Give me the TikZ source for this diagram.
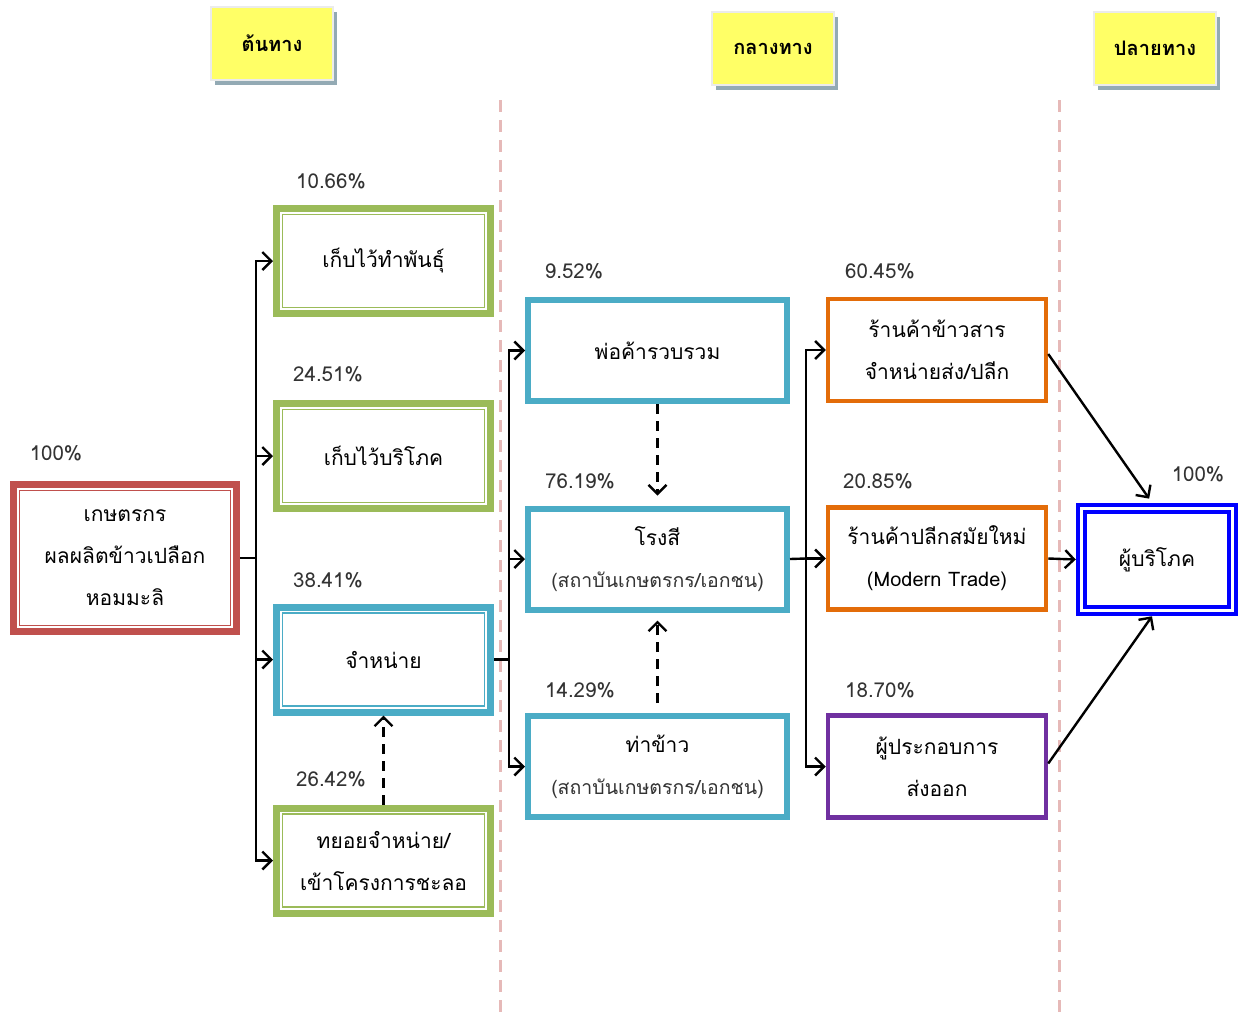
\documentclass[tikz,border=0pt]{standalone}
\usepackage{fontspec}
\setmainfont[Script=Thai]{Loma}
\usetikzlibrary{arrows.meta,shadows,calc}
\definecolor{cgreen}{HTML}{9BBB59}
\definecolor{cred}{HTML}{C0504D}
\definecolor{cteal}{HTML}{4BACC6}
\definecolor{corange}{HTML}{E36C09}
\definecolor{cpurple}{HTML}{7030A0}
\definecolor{cblue}{HTML}{0000FF}
\definecolor{cpink}{HTML}{E6B9B8}
\definecolor{cyellow}{HTML}{FFFF66}
\definecolor{cshadow}{HTML}{93AAB4}
\definecolor{clabel}{HTML}{333333}
\newcommand{\subtxt}[1]{{\fontsize{19.5}{42}\selectfont\color{black!80}#1}}
\tikzset{
  boxbase/.style={rectangle, inner sep=0pt, align=center, fill=white,
    font=\fontsize{21}{42}\selectfont},
  innerline/.style 2 args={path picture={\draw[#1,line width=#2]
    ([shift={(6pt,-6pt)}]path picture bounding box.north west) rectangle
    ([shift={(-6pt,6pt)}]path picture bounding box.south east);}},
  greenbox/.style={boxbase, draw=cgreen, line width=7pt, minimum width=214pt,
    minimum height=105pt, innerline={cgreen}{1.8pt}},
  tealdouble/.style={boxbase, draw=cteal, line width=7pt, minimum width=214pt,
    minimum height=105pt, innerline={cteal}{1.8pt}},
  redbox/.style={boxbase, draw=cred, line width=7pt, minimum width=223pt,
    minimum height=147pt, innerline={cred}{1.8pt}},
  tealbox/.style={boxbase, draw=cteal, line width=6pt, minimum width=259pt,
    minimum height=101pt},
  orangebox/.style={boxbase, draw=corange, line width=4.5pt, minimum width=218pt,
    minimum height=102pt},
  purplebox/.style={boxbase, draw=cpurple, line width=4.5pt, minimum width=218pt,
    minimum height=102pt},
  consbox/.style={boxbase, draw=cblue, line width=4.5pt, minimum width=158pt,
    minimum height=109pt,
    path picture={\draw[cblue,line width=4pt]
    ([shift={(7pt,-7pt)}]path picture bounding box.north west) rectangle
    ([shift={(-7pt,7pt)}]path picture bounding box.south east);}},
  header/.style={rectangle, fill=cyellow, draw=black!8, line width=2pt,
    minimum width=122pt, minimum height=73pt, inner sep=0pt,
    font=\fontsize{20}{24}\selectfont\bfseries,
    drop shadow={shadow xshift=4pt, shadow yshift=-5pt, fill=cshadow, opacity=1}},
  pct/.style={font=\fontsize{20.5}{24}\selectfont, text=clabel, inner sep=0pt},
  conn/.style={draw=black, line width=2.4pt, -{Straight Barb[length=9pt,width=18pt]}},
  plain/.style={draw=black, line width=2.4pt},
  dconn/.style={conn, dash pattern=on 10pt off 7pt},
  divider/.style={draw=cpink, line width=3pt, dash pattern=on 12pt off 8pt},
}
\begin{document}
\begin{tikzpicture}[x=1pt,y=-1pt]
\useasboundingbox (0,0) rectangle (1245,1015);

% dividers
\coordinate (d1a) at (500,100); \coordinate (d1b) at (500,1015);
\coordinate (d2a) at (1059,100); \coordinate (d2b) at (1059,1015);
\draw[divider] (d1a) -- (d1b);
\draw[divider] (d2a) -- (d2b);

% headers
\node[header] (h1) at (272,43.5) {ต้นทาง};
\node[header] (h2) at (773,48.5) {กลางทาง};
\node[header] (h3) at (1155,48.5) {ปลายทาง};

% left
\node[redbox] (farmer) at (125,558) {เกษตรกร\\ผลผลิตข้าวเปลือก\\หอมมะลิ};
\node[pct] (p0) at (56,453) {100\%};

% column 2
\node[greenbox] (seed) at (383.5,261) {\raisebox{-3pt}{เก็บไว้ทำพันธุ์}};
\node[greenbox] (cons2) at (383.5,456) {เก็บไว้บริโภค};
\node[tealdouble] (sell) at (383.5,659.5) {จำหน่าย};
\node[greenbox] (gradual) at (383.5,860.5) {ทยอยจำหน่าย/\\เข้าโครงการชะลอ};
\node[pct] (p1) at (331,181) {10.66\%};
\node[pct] (p2) at (328,374) {24.51\%};
\node[pct] (p3) at (328,580) {38.41\%};
\node[pct] (p4) at (331,779) {26.42\%};

% column 3
\node[tealbox] (coll) at (657.5,350.5) {พ่อค้ารวบรวม};
\node[tealbox] (mill) at (657.5,559) {โรงสี\\\subtxt{(สถาบันเกษตรกร/เอกชน)}};
\node[tealbox] (port) at (657.5,766.5) {ท่าข้าว\\\subtxt{(สถาบันเกษตรกร/เอกชน)}};
\node[pct] (p5) at (574,271) {9.52\%};
\node[pct] (p6) at (580,481) {76.19\%};
\node[pct] (p7) at (580,690) {14.29\%};

% column 4
\node[orangebox] (rice) at (937,350) {ร้านค้าข้าวสาร\\จำหน่ายส่ง/ปลีก};
\node[orangebox] (modern) at (937,558.5) {ร้านค้าปลีกสมัยใหม่\\{\fontsize{20}{42}\selectfont(Modern Trade)}};
\node[purplebox] (export) at (937,766.5) {ผู้ประกอบการ\\ส่งออก};
\node[pct] (p8) at (880,271) {60.45\%};
\node[pct] (p9) at (878,481) {20.85\%};
\node[pct] (p10) at (880,690) {18.70\%};

% consumer
\node[consbox] (consumer) at (1157,559.5) {ผู้บริโภค};
\node[pct] (p11) at (1198,474) {100\%};

% trunk 1
\coordinate (t1) at (256,558);
\draw[plain] (farmer.east) -- (t1);
\draw[conn] (t1) |- (seed.west);
\draw[conn] (t1) |- (cons2.west);
\draw[conn] (t1) |- (sell.west);
\draw[conn] (t1) |- (gradual.west);
\draw[dconn] (gradual.north) -- (sell.south);

% trunk 2
\coordinate (t2) at (509,659.5);
\draw[plain] (sell.east) -- (t2);
\draw[conn] (t2) |- (coll.west);
\draw[conn] (t2) |- (mill.west);
\draw[conn] (t2) |- (port.west);
\draw[dconn, shorten >=10pt] (coll.south) -- (mill.north);
\draw[dconn, shorten >=8pt, shorten <=10pt] (port.north) -- (mill.south);

% trunk 3
\coordinate (t3) at (806,558.5);
\draw[plain] (mill.east) -- (t3);
\draw[conn] (t3) |- (rice.west);
\draw[conn] (t3) |- (modern.west);
\draw[conn] (t3) |- (export.west);

% to consumer
\draw[conn, shorten >=5pt] ([yshift=-4pt]rice.east) -- ([xshift=-5pt]consumer.north);
\draw[conn] (modern.east) -- (consumer.west);
\draw[conn] ([yshift=3pt]export.east) -- ([xshift=-5pt]consumer.south);
\end{tikzpicture}
\end{document}
